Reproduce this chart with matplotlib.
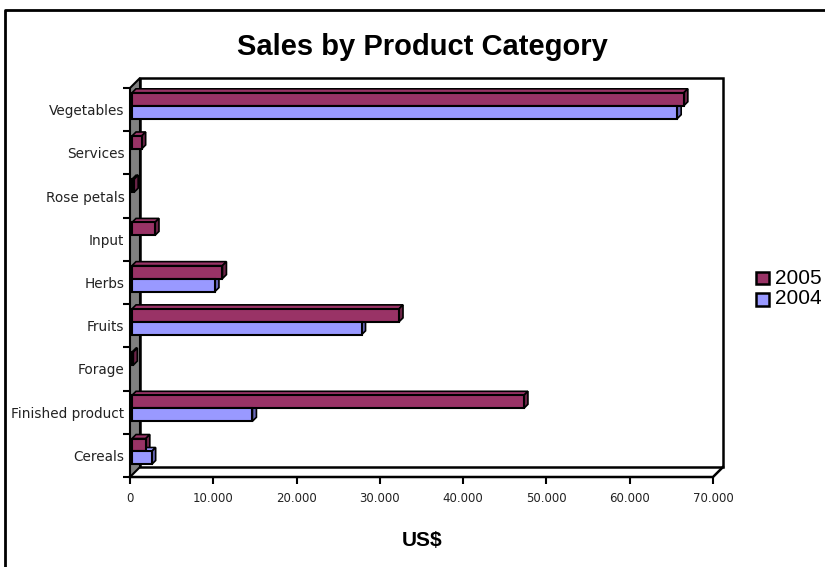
import matplotlib.pyplot as plt
from matplotlib.patches import Polygon, Rectangle
from matplotlib.lines import Line2D
from matplotlib.transforms import ScaledTranslation
import numpy as np

categories = ["Cereals", "Finished product", "Forage", "Fruits", "Herbs",
              "Input", "Rose petals", "Services", "Vegetables"]
sales_2005 = [1900, 47300, 400, 32300, 11100, 3000, 500, 1400, 66500]
sales_2004 = [2600, 14700, 0, 27800, 10200, 0, 0, 0, 65700]
years = ["2005", "2004"]
x_ticks = [0, 10000, 20000, 30000, 40000, 50000, 60000, 70000]

col_2005 = "#993366"
col_2004 = "#9999FF"
side_2005 = "#6b2447"
side_2004 = "#6868b8"

W, H = 825, 567
fig = plt.figure(figsize=(W / 100, H / 100), dpi=100)
fig.patch.set_facecolor("white")

# front plane of the 3d plot, in pixels
L, R, B, T = 130, 713, 477, 88
ax = fig.add_axes([L / W, (H - B) / H, (R - L) / W, (B - T) / H])
ax.set_xlim(0, 70000)
ax.set_ylim(-0.5, len(categories) - 0.5)
ax.patch.set_alpha(0)
for s in ax.spines.values():
    s.set_visible(False)

# pixel -> data scale
px_x = 70000 / (R - L)
px_y = len(categories) / (B - T)

# back wall, shifted 10 px right and up
back = ax.transData + ScaledTranslation(10 / 100, 10 / 100, fig.dpi_scale_trans)
ax.add_patch(Rectangle((0, -0.5), 70000, len(categories), transform=back,
                       facecolor="white", edgecolor="black", lw=1.8, zorder=0,
                       clip_on=False))
# left wall (grey)
d = 10
ax.add_patch(Polygon([(0, -0.5), (0, len(categories) - 0.5),
                      (d * px_x, len(categories) - 0.5 + d * px_y),
                      (d * px_x, -0.5 + d * px_y)],
                     closed=True, facecolor="#808080", edgecolor="black",
                     lw=1.5, zorder=1, clip_on=False))
# floor edges
ax.add_line(Line2D([0, 70000, 70000 + d * px_x], [-0.5, -0.5, -0.5 + d * px_y],
                   color="black", lw=1.8, zorder=1, clip_on=False))

# 3d bars
depth = 4
h = 0.3
y = np.arange(len(categories))
for vals, off, fc, sc in [(sales_2005, 0.24, col_2005, side_2005),
                          (sales_2004, -0.06, col_2004, side_2004)]:
    for yi, v in zip(y, vals):
        if v <= 0:
            continue
        x0 = d * px_x * 0.2
        c = yi + off
        bot, top = c - h / 2, c + h / 2
        dx, dy = depth * px_x, depth * px_y
        ax.add_patch(Polygon([(x0, top), (v, top), (v + dx, top + dy), (x0 + dx, top + dy)],
                             closed=True, facecolor=fc, edgecolor="black", lw=1.2, zorder=3))
        ax.add_patch(Polygon([(v, bot), (v + dx, bot + dy), (v + dx, top + dy), (v, top)],
                             closed=True, facecolor=sc, edgecolor="black", lw=1.2, zorder=3))
        ax.barh(c, v - x0, left=x0, height=h, color=fc, edgecolor="black", lw=1.5, zorder=4)

ax.set_yticks(y)
ax.set_yticklabels(categories, fontsize=9.8, color="#222222")
ax.set_yticks(np.arange(-0.5, len(categories)), minor=True)
ax.tick_params(axis="y", which="major", length=0, pad=4)
ax.tick_params(axis="y", which="minor", length=5, width=1.5, direction="out")
ax.set_xticks(x_ticks)
ax.set_xticklabels([f"{t:,}".replace(",", ".") for t in x_ticks], fontsize=8.5, color="#222222")
ax.tick_params(axis="x", length=5, width=1.5, direction="out", pad=6)

fig.text(422 / W, 1 - 47 / H, "Sales by Product Category", ha="center", va="center",
         fontsize=21, fontweight="bold", family="Liberation Sans")
fig.text(422 / W, 1 - 541 / H, "US$", ha="center", va="center",
         fontsize=15, fontweight="bold", family="Liberation Sans")

# legend (cut off at the right edge like the original)
for i, (lab, col) in enumerate(zip(years, [col_2005, col_2004])):
    yy = 1 - (278 + i * 21) / H
    fig.add_artist(Rectangle((756 / W, yy - 6.5 / H), 13 / W, 13 / H, facecolor=col,
                             edgecolor="black", lw=1.8, transform=fig.transFigure))
    fig.text(775 / W, yy, lab, ha="left", va="center", fontsize=15, family="Liberation Sans")

# outer chart border
fig.add_artist(Line2D([5 / W, 5 / W, 1.01], [-0.01, 1 - 10 / H, 1 - 10 / H],
                      color="black", lw=2, transform=fig.transFigure))

fig.savefig("out.png", dpi=100)
